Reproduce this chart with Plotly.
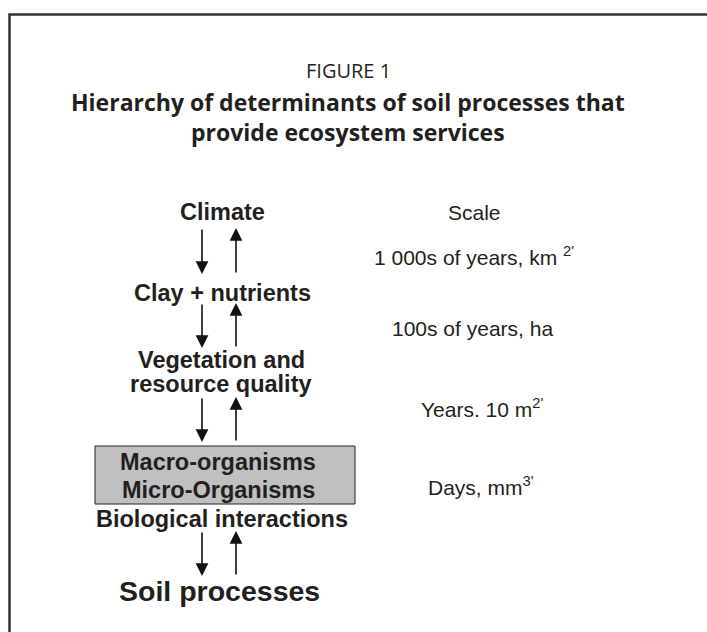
import plotly.graph_objects as go

# ---- diagram content ----
figure_label = "FIGURE 1"
title_lines = ["Hierarchy of determinants of soil processes that",
               "provide ecosystem services"]
levels = ["Climate", "Clay + nutrients", "Vegetation and<br>resource quality",
          "Macro-organisms<br>Micro-Organisms", "Biological interactions",
          "Soil processes"]
scale_header = "Scale"
scales = ["1 000s of years, km <sup>2'</sup>", "100s of years, ha",
          "Years. 10 m<sup>2'</sup>", "Days, mm<sup>3'</sup>"]

W, H = 707, 632
fig = go.Figure()
fig.add_trace(go.Scatter(x=[0, W], y=[0, H], mode="markers",
                         marker=dict(opacity=0), hoverinfo="skip", showlegend=False))

shapes = []
# frame (left and top edges)
shapes.append(dict(type="path", xref="x", yref="y",
                   path=f"M 9.5 {H+5} L 9.5 14.5 L {W+5} 14.5",
                   line=dict(color="#333333", width=2.5)))
# grey box
shapes.append(dict(type="rect", xref="x", yref="y", x0=95, x1=355, y0=446, y1=504,
                   fillcolor="#c0c0c0", line=dict(color="#222222", width=1), layer="below"))

ann = []
ann.append(dict(text=figure_label, x=348, y=70, showarrow=False,
                font=dict(family="Open Sans", size=20, color="#231f20")))
for t, yy in zip(title_lines, [102, 132]):
    ann.append(dict(text="<b>" + t + "</b>", x=348, y=yy, showarrow=False,
                    font=dict(family="Open Sans", size=23, color="#231f20")))

# (x, [y per line], font size)
lvl_pos = [(222, [212], 23.5), (222, [293], 23.5), (221, [360, 384], 23.5),
           (218, [462, 490], 23.5), (222, [519], 23.5), (219, [591], 28.5)]
for t, (xx, ys, fs) in zip(levels, lvl_pos):
    for line, yy in zip(t.split("<br>"), ys):
        ann.append(dict(text="<b>" + line + "</b>", x=xx, y=yy, showarrow=False,
                        font=dict(family="Liberation Sans", size=fs, color="#231f20")))

ann.append(dict(text=scale_header, x=474, y=212, showarrow=False,
                font=dict(family="Liberation Sans", size=21, color="#231f20")))
scale_pos = [(474, 256), (472, 328), (482, 408), (481, 486)]
for t, (xx, yy) in zip(scales, scale_pos):
    ann.append(dict(text=t, x=xx, y=yy, showarrow=False,
                    font=dict(family="Liberation Sans", size=21, color="#231f20")))

# arrows: (top, bottom) of each gap
gaps = [(228, 274), (303, 348), (397, 442), (531, 576)]
for top, bot in gaps:
    ann.append(dict(x=202, y=bot, ax=202, ay=top, xref="x", yref="y", axref="x", ayref="y",
                    text="", showarrow=True, arrowhead=2, arrowsize=1.6, arrowwidth=1.6,
                    arrowcolor="#111111", standoff=0, startstandoff=0))
    ann.append(dict(x=236, y=top, ax=236, ay=bot, xref="x", yref="y", axref="x", ayref="y",
                    text="", showarrow=True, arrowhead=2, arrowsize=1.6, arrowwidth=1.6,
                    arrowcolor="#111111", standoff=0, startstandoff=0))

fig.update_layout(
    width=W, height=H, margin=dict(l=0, r=0, t=0, b=0),
    paper_bgcolor="white", plot_bgcolor="white",
    xaxis=dict(range=[0, W], visible=False, fixedrange=True),
    yaxis=dict(range=[H, 0], visible=False, fixedrange=True),
    shapes=shapes, annotations=ann, showlegend=False,
)
fig.write_html("out.html", config={"displayModeBar": False},
               post_script="document.body.style.margin='0px';document.body.style.overflow='hidden';")
